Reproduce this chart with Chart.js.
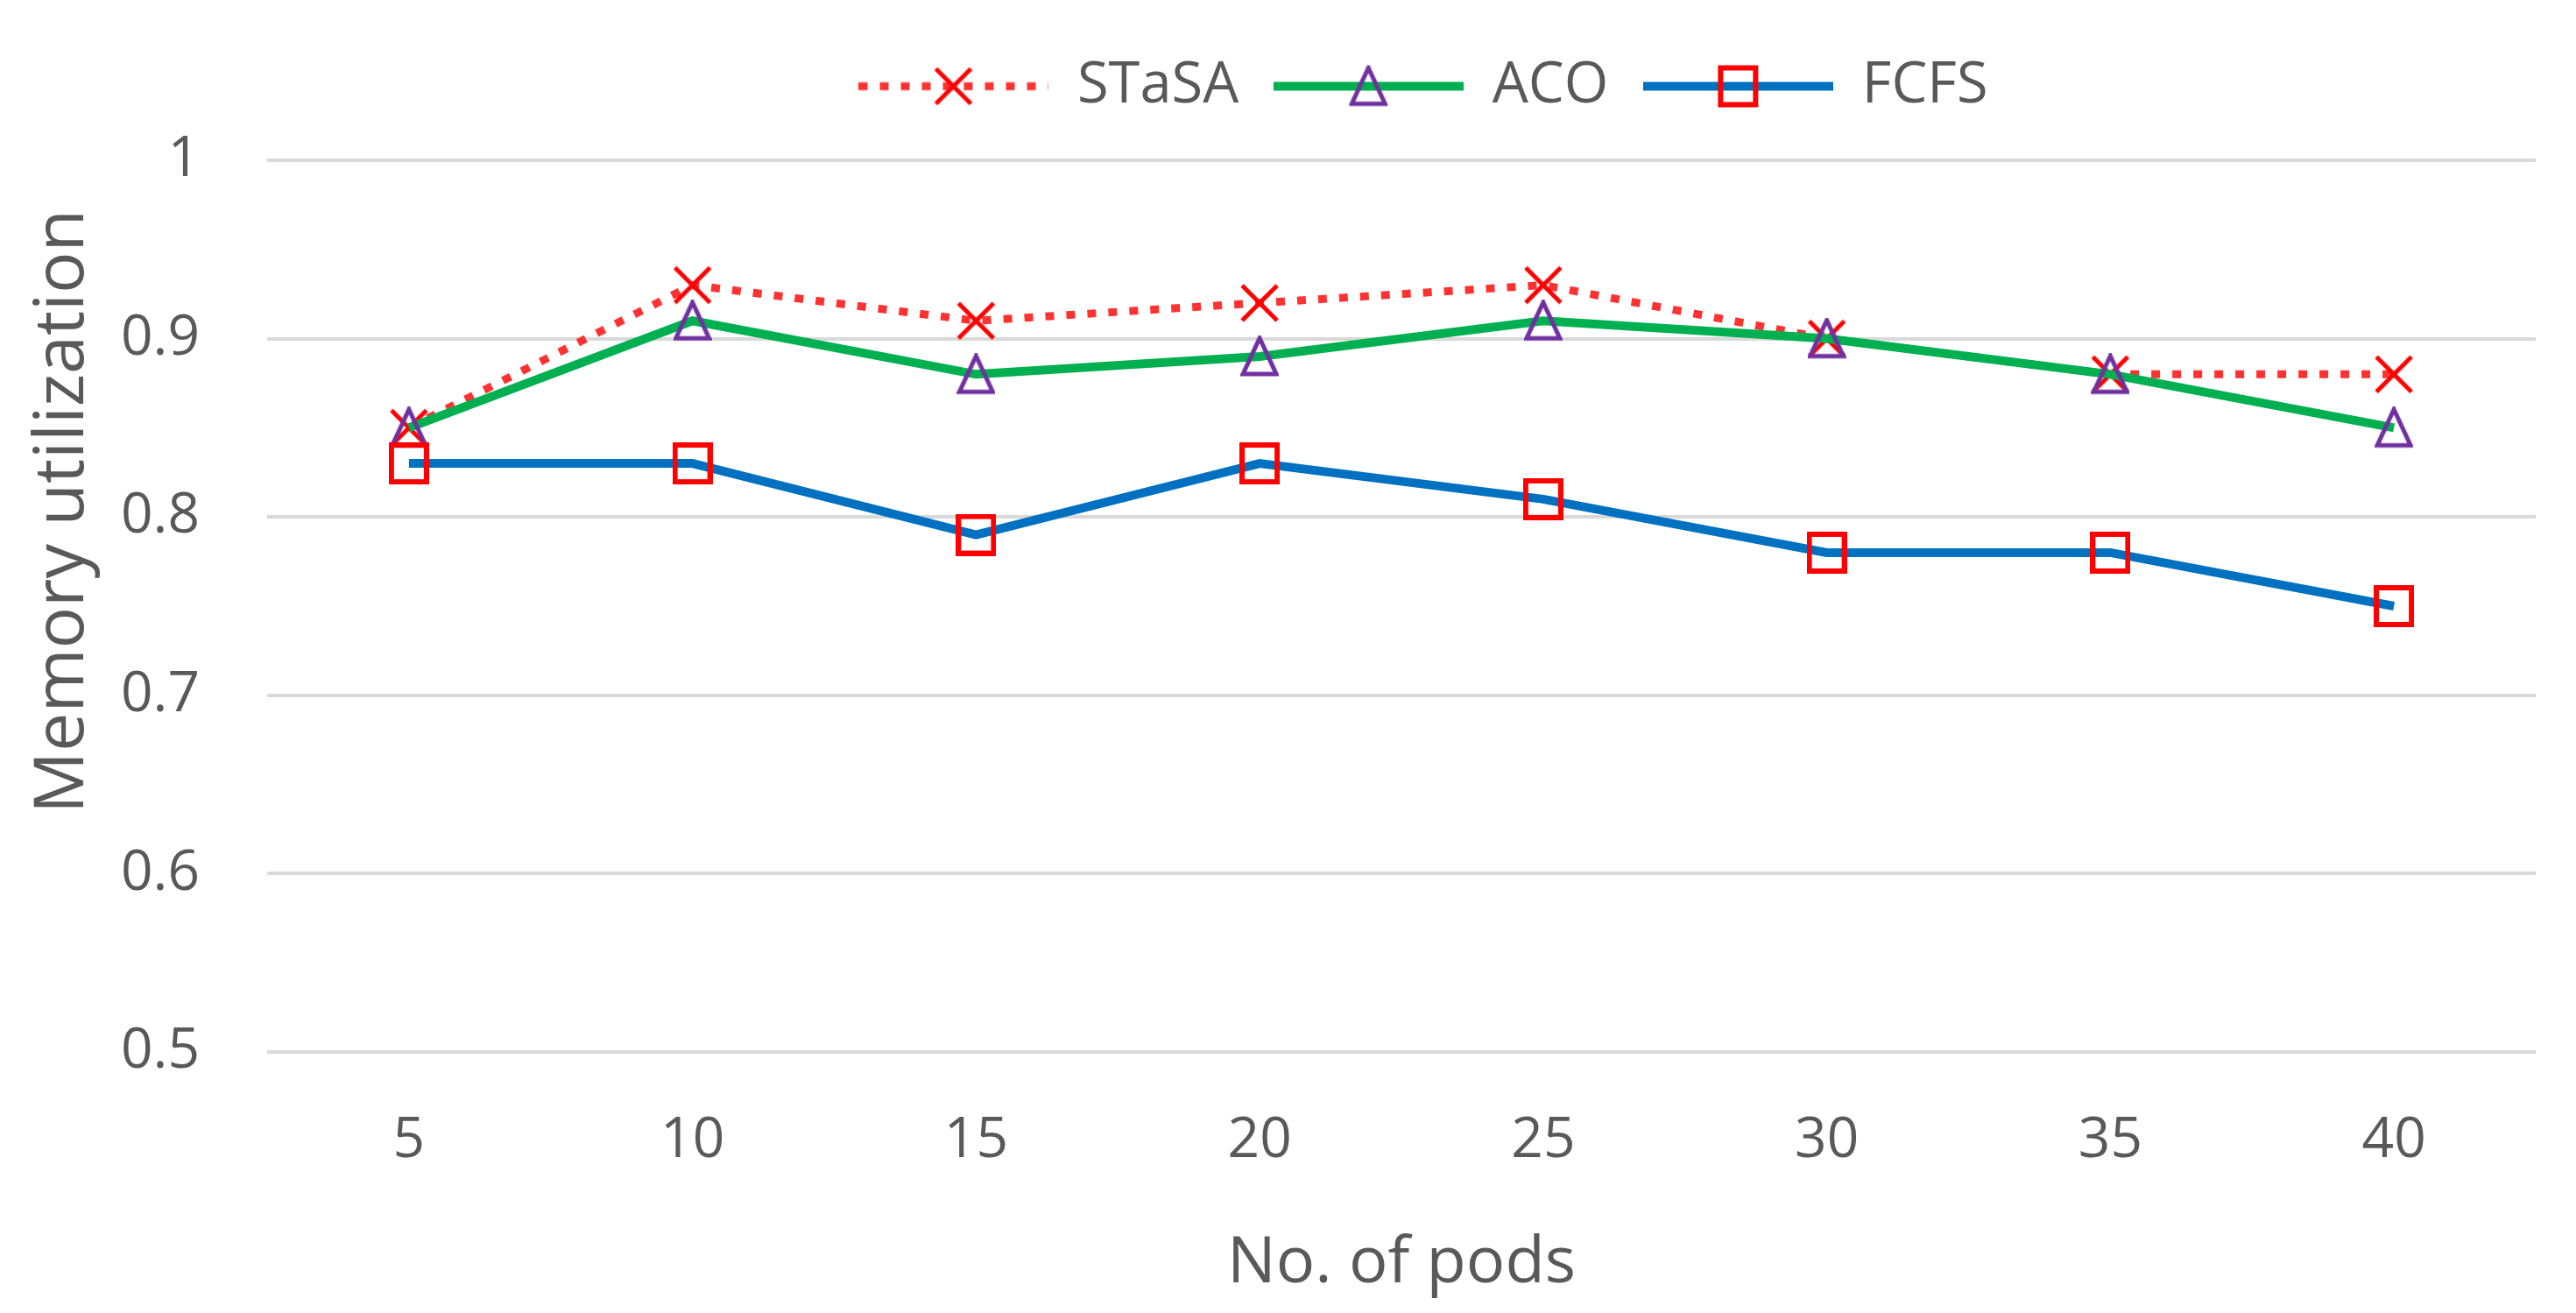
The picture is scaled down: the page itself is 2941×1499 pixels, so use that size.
<!DOCTYPE html>
<html>
<head>
<meta charset="utf-8">
<script src="https://cdn.jsdelivr.net/npm/chart.js@4.4.1/dist/chart.umd.min.js"></script>
<style>
  html, body { margin: 0; padding: 0; background: #ffffff; }
  #wrap { width: 2941px; height: 1499px; }
</style>
</head>
<body>
<div id="wrap"><canvas id="memChart" width="2941" height="1499"></canvas></div>
<script>
// Chart data
var pods = ['5', '10', '15', '20', '25', '30', '35', '40'];
var stasa = [0.85, 0.93, 0.91, 0.92, 0.93, 0.90, 0.88, 0.88];
var aco = [0.85, 0.91, 0.88, 0.89, 0.91, 0.90, 0.88, 0.85];
var fcfs = [0.83, 0.83, 0.79, 0.83, 0.81, 0.78, 0.78, 0.75];
var yTicks = [0.5, 0.6, 0.7, 0.8, 0.9, 1];
var yTitle = 'Memory utilization';
var xTitle = 'No. of pods';

var textColor = '#595959';
var fontFamily = '"Open Sans", "Liberation Sans", sans-serif';

// Marker images (Excel-like x, triangle, square)
function markerX() {
	var c = document.createElement('canvas');
	c.width = 48; c.height = 48;
	var g = c.getContext('2d');
	g.strokeStyle = '#ff0000';
	g.lineWidth = 5;
	g.beginPath();
	g.moveTo(4, 4); g.lineTo(44, 44);
	g.moveTo(44, 4); g.lineTo(4, 44);
	g.stroke();
	return c;
}

function markerTriangle() {
	var c = document.createElement('canvas');
	c.width = 44; c.height = 48;
	var g = c.getContext('2d');
	g.strokeStyle = '#7030a0';
	g.lineWidth = 5;
	g.beginPath();
	g.moveTo(22, 3);
	g.lineTo(41, 44);
	g.lineTo(3, 44);
	g.closePath();
	g.stroke();
	return c;
}

function markerSquare() {
	var c = document.createElement('canvas');
	c.width = 46; c.height = 48;
	var g = c.getContext('2d');
	g.strokeStyle = '#ff0000';
	g.lineWidth = 6;
	g.strokeRect(3, 3, 40, 42);
	return c;
}

var mX = markerX();
var mTri = markerTriangle();
var mSq = markerSquare();

// Legend icons: line segment with marker in the middle
function legendIcon(color, width, dash, marker) {
	var c = document.createElement('canvas');
	c.width = 217; c.height = 56;
	var g = c.getContext('2d');
	g.strokeStyle = color;
	g.lineWidth = width;
	g.setLineDash(dash);
	g.beginPath();
	g.moveTo(0, 28); g.lineTo(217, 28);
	g.stroke();
	g.drawImage(marker, 108 - marker.width / 2, 28 - marker.height / 2);
	return c;
}

var legendIcons = [
	legendIcon('rgb(255, 50, 50)', 9, [10, 14], mX),
	legendIcon('#00b050', 10, [], mTri),
	legendIcon('#0070c0', 10, [], mSq)
];

// fixed legend height, legend nudged right like the original
var legendPlugin = {
	id: 'legendTweak',
	beforeLayout: function (chart) {
		var legend = chart.legend;
		if (legend && !legend._patched) {
			var origFit = legend.fit;
			legend.fit = function () {
				origFit.call(this);
				this.height = 157;
			};
			legend._patched = true;
		}
	},
	afterLayout: function (chart) {
		chart.legend.left += 25;
		chart.legend.right += 25;
	}
};

// y axis title sits above the middle of the axis in the original
var yTitlePlugin = {
	id: 'yTitle',
	afterDraw: function (chart) {
		var c = chart.ctx;
		c.save();
		c.translate(72, 584);
		c.rotate(-Math.PI / 2);
		c.font = '79px ' + fontFamily;
		c.fillStyle = textColor;
		c.textAlign = 'center';
		c.textBaseline = 'middle';
		c.fillText(yTitle, 0, 0);
		c.restore();
	}
};

var ctx = document.getElementById('memChart').getContext('2d');

new Chart(ctx, {
	type: 'line',
	data: {
		labels: pods,
		datasets: [
			{
				label: 'STaSA',
				data: stasa,
				borderColor: 'rgb(255, 50, 50)',
				borderWidth: 9,
				borderDash: [10, 14],
				pointStyle: mX,
				pointRadius: 20,
				tension: 0,
				fill: false,
				order: 3
			},
			{
				label: 'ACO',
				data: aco,
				borderColor: '#00b050',
				borderWidth: 10,
				pointStyle: mTri,
				pointRadius: 20,
				tension: 0,
				fill: false,
				order: 2
			},
			{
				label: 'FCFS',
				data: fcfs,
				borderColor: '#0070c0',
				borderWidth: 10,
				pointStyle: mSq,
				pointRadius: 20,
				tension: 0,
				fill: false,
				order: 1
			}
		]
	},
	options: {
		responsive: false,
		devicePixelRatio: 1,
		animation: false,
		layout: {
			padding: { top: 26, right: 46, bottom: 0, left: 0 }
		},
		plugins: {
			legend: {
				display: true,
				position: 'top',
				fullSize: false,
				labels: {
					usePointStyle: true,
					pointStyleWidth: 217,
					padding: 40,
					color: textColor,
					font: { family: fontFamily, size: 65 },
					generateLabels: function (chart) {
						return chart.data.datasets.map(function (ds, i) {
							return {
								text: ds.label,
								pointStyle: legendIcons[i],
								fillStyle: 'transparent',
								strokeStyle: 'transparent',
								lineWidth: 0,
								fontColor: textColor,
								hidden: false,
								datasetIndex: i
							};
						});
					}
				}
			},
			tooltip: { enabled: false }
		},
		scales: {
			x: {
				offset: true,
				grid: { display: false },
				border: { display: false },
				ticks: {
					color: textColor,
					padding: 55,
					font: { family: fontFamily, size: 64 }
				},
				title: {
					display: true,
					text: xTitle,
					color: textColor,
					font: { family: fontFamily, size: 74 },
					padding: { top: 0, bottom: 12 }
				},
				afterFit: function (scale) {
					scale.height = 298;
				}
			},
			y: {
				min: 0.5,
				max: 1,
				afterBuildTicks: function (scale) {
					scale.ticks = yTicks.map(function (v) { return { value: v }; });
				},
				grid: {
					color: '#d9d9d9',
					lineWidth: 4,
					drawTicks: false
				},
				border: { display: false },
				ticks: {
					color: textColor,
					padding: 77,
					font: { family: fontFamily, size: 64 },
					callback: function (value) {
						return String(Math.round(value * 10) / 10);
					}
				},
				title: { display: false },
				afterFit: function (scale) {
					scale.width = 305;
				}
			}
		}
	},
	plugins: [legendPlugin, yTitlePlugin]
});
</script>
</body>
</html>
